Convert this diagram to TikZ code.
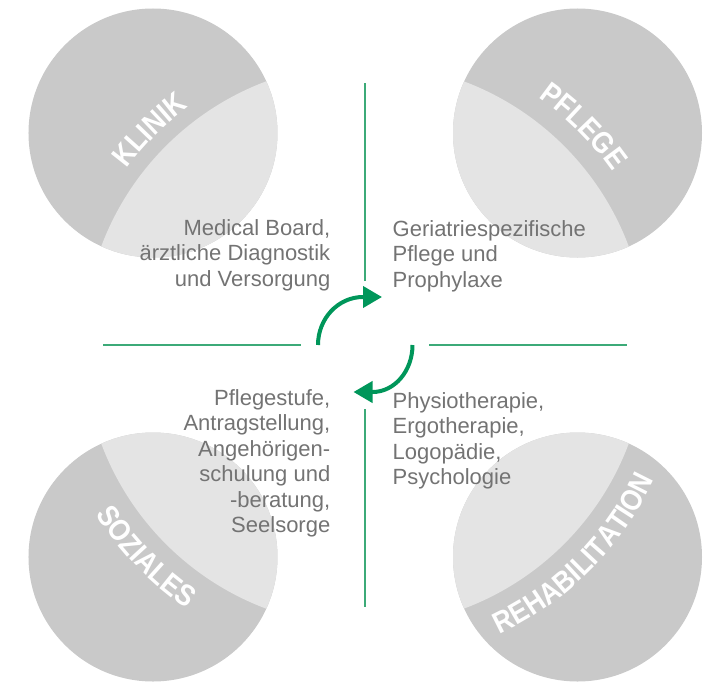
\documentclass[tikz,border=0pt]{standalone}
\usepackage{fontspec}
\setmainfont{Liberation Sans}
\newfontfamily\catfont[FakeStretch=0.88]{Liberation Sans}
\usepackage{tikz}
\usetikzlibrary{arrows.meta,decorations.text}

\definecolor{discdark}{RGB}{201,201,201}
\definecolor{disclight}{RGB}{228,228,228}
\definecolor{textgray}{RGB}{115,115,115}
\definecolor{arrowgreen}{RGB}{0,150,90}
\definecolor{linegreen}{RGB}{60,170,120}

\newcommand{\catlabel}{\catfont\bfseries\fontsize{30}{30}\selectfont\color{white}}

\begin{document}
\begin{tikzpicture}[x=1pt,y=1pt,
    infotext/.style={text=textgray, font=\fontsize{22}{25.5}\selectfont, inner sep=0pt},
    sepline/.style={linegreen, line width=1.5pt},
    cyclearrow/.style={arrowgreen, line width=4pt, -{Triangle[length=19pt,width=21pt]}}]
    \useasboundingbox (-365,-336) rectangle (344,345);

    % Drawing the four discs with their lighter inner part
    \foreach \cx/\cy in {-212/212, 212.5/212, -212/-212, 212.5/-212} {
        \fill[discdark] (\cx,\cy) circle (124.5pt);
        \begin{scope}
            \clip (\cx,\cy) circle (124.5pt);
            \fill[disclight] (0,0) circle (281.5pt);
        \end{scope}
    }

    % Disc labels along the arcs
    \path[decorate, decoration={text along path, text align=center,
        text={|\catlabel|KLINIK}}]
        (157:296pt) arc[start angle=157, end angle=113, radius=296pt];
    \path[decorate, decoration={text along path, text align=center,
        text={|\catlabel|PFLEGE}}]
        (67:302pt) arc[start angle=67, end angle=23, radius=302pt];
    \path[decorate, decoration={text along path, text align=center,
        text={|\catlabel|SOZIALES}}]
        (199:318pt) arc[start angle=199, end angle=249, radius=318pt];
    \path[decorate, decoration={text along path, text align=center,
        text={|\catlabel|REHABILITATION}}]
        (-78:319pt) arc[start angle=-78, end angle=-12, radius=319pt];

    % Separating lines
    \foreach \a in {0,90,180,270} {
        \draw[sepline] (\a:64pt) -- (\a:262pt);
    }

    % Texts
    \node[infotext, align=right, anchor=north east] (klinikinfo) at (-34.5,126)
        {Medical Board,\\ärztliche Diagnostik\\und Versorgung};
    \node[infotext, align=left, anchor=north west] (pflegeinfo) at (27.5,125)
        {Geriatriespezifische\\Pflege und\\Prophylaxe};
    \node[infotext, align=right, anchor=north east] (sozialinfo) at (-34.5,-44)
        {Pflegestufe,\\Antragstellung,\\Angehörigen-\\schulung und\\-beratung,\\Seelsorge};
    \node[infotext, align=left, anchor=north west] (rehainfo) at (27.5,-47)
        {Physiotherapie,\\Ergotherapie,\\Logopädie,\\Psychologie};

    % Cycle arrows
    \coordinate (cyclewest) at (-47,0);
    \coordinate (cycleeast) at (47.5,0);
    \draw[cyclearrow] (cyclewest) arc[start angle=180, end angle=90, x radius=45pt, y radius=48pt] -- ++(19pt,0);
    \draw[cyclearrow] (cycleeast) arc[start angle=0, end angle=-90, x radius=40pt, y radius=47pt] -- ++(-19pt,0);
\end{tikzpicture}
\end{document}
